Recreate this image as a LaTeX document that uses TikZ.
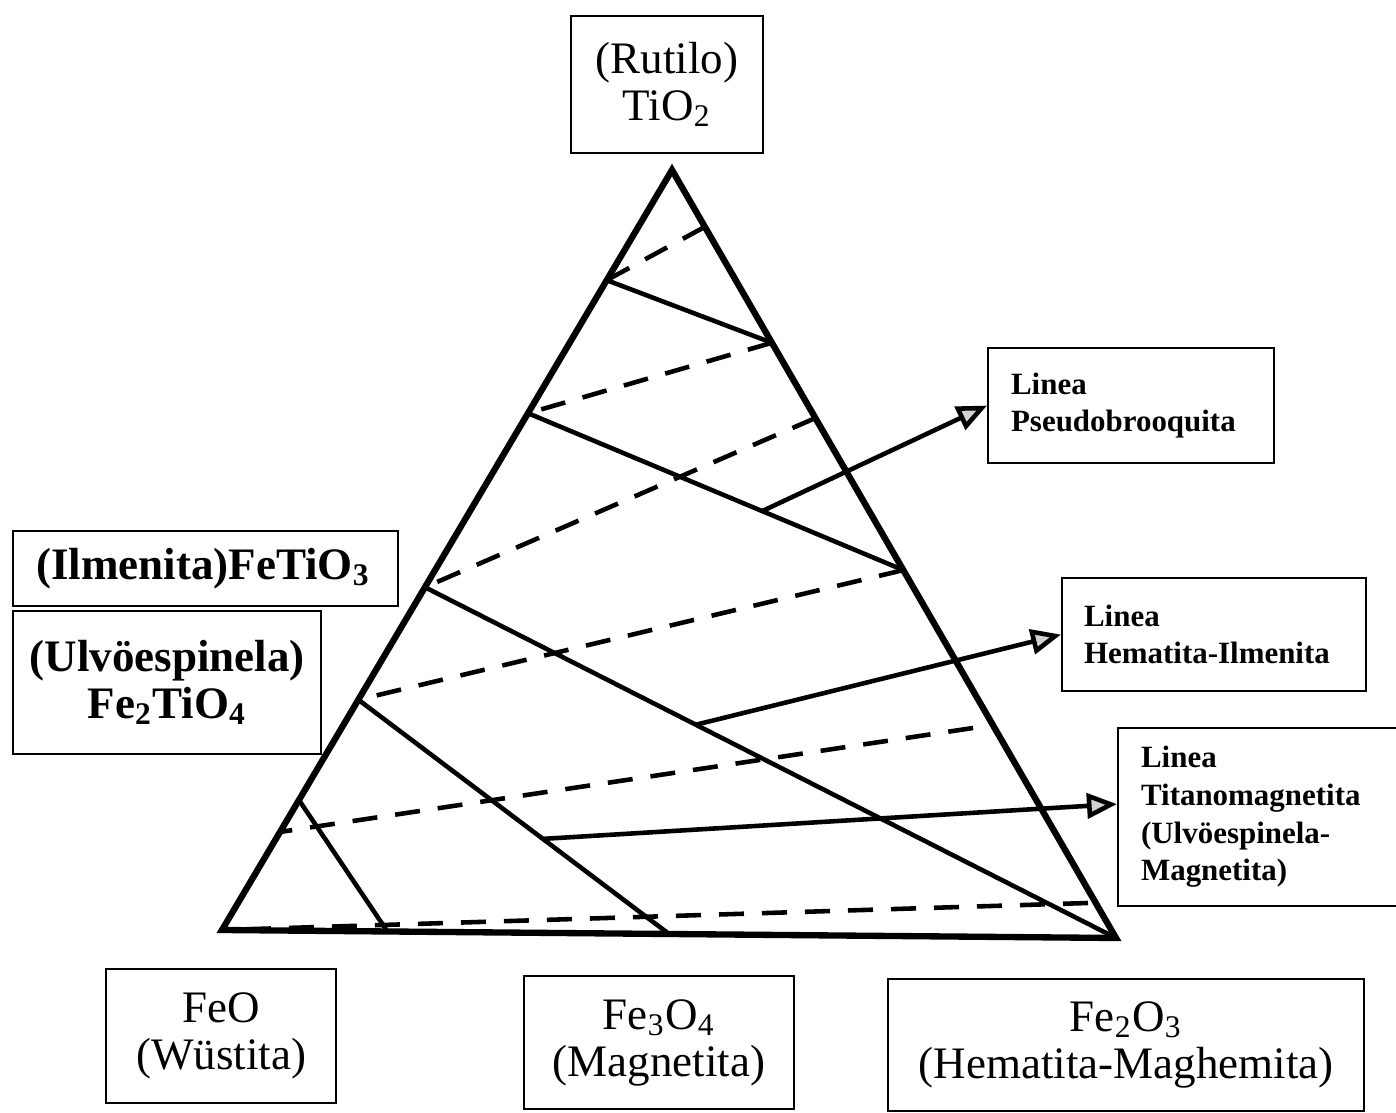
\documentclass[tikz,border=0pt]{standalone}
\usepackage{fontspec}
\setmainfont{Liberation Serif}
\usepackage{tikz}
\usetikzlibrary{arrows.meta,positioning,calc}

\begin{document}
\begin{tikzpicture}[x=0.01cm, y=-0.01cm,
  big/.style={font=\fontsize{12.8}{13.4}\selectfont},
  bigbold/.style={font=\bfseries\fontsize{12.8}{13.4}\selectfont},
  small/.style={font=\bfseries\fontsize{8.8}{10.7}\selectfont},
  box/.style={draw, line width=0.6pt, inner sep=0pt, anchor=north west},
  edge/.style={line width=1.8pt},
  tie/.style={line width=1.3pt},
  dashline/.style={line width=1.3pt, dash pattern=on 2.5mm off 1.8mm},
  ptr/.style={line width=1.3pt, -{Triangle[length=3mm,width=2.5mm,fill=gray!35]}}]
\useasboundingbox (0,0) rectangle (1396,1113);
\coordinate (T) at (672,170);
\coordinate (L) at (222,930);
\coordinate (R) at (1116,938);
\coordinate (a1) at ($(T)!0.145!(L)$);
\coordinate (a2) at ($(T)!0.320!(L)$);
\coordinate (a3) at ($(T)!0.549!(L)$);
\coordinate (a4) at ($(T)!0.697!(L)$);
\coordinate (a5) at ($(T)!0.829!(L)$);
\coordinate (a6) at ($(T)!0.871!(L)$);
\coordinate (b1) at ($(T)!0.074!(R)$);
\coordinate (b2) at ($(T)!0.225!(R)$);
\coordinate (b3) at ($(T)!0.323!(R)$);
\coordinate (b4) at ($(T)!0.521!(R)$);
\coordinate (c1) at ($(L)!0.185!(R)$);
\coordinate (c2) at ($(L)!0.500!(R)$);
\coordinate (e5) at (973,728);
\coordinate (e6) at (1088,903);
\draw[edge] (T) -- (L) -- (R) -- cycle;
\draw[dashline] (b1) -- (a1);
\draw[dashline] (b2) -- (a2);
\draw[dashline] (b3) -- (a3);
\draw[dashline] (b4) -- (a4);
\draw[dashline] (e5) -- (a6);
\draw[dashline] (e6) -- (L);
\draw[tie] (a1) -- (b2);
\draw[tie] (a2) -- (b4);
\draw[tie] (a3) -- (R);
\draw[tie] (a4) -- (c2);
\draw[tie] (a5) -- (c1);
\node[box, big, minimum width=1.92cm, minimum height=1.37cm, align=center] (rut) at (570,15) {(Rutilo)\\TiO\textsubscript{2}};
\node[box, bigbold, minimum width=3.85cm, minimum height=0.75cm, inner xsep=2.3mm, text width=3.39cm, align=left] (ilm) at (12,530) {(Ilmenita)FeTiO\textsubscript{3}};
\node[box, bigbold, minimum width=3.08cm, minimum height=1.43cm, align=center] (ulv) at (12,610) {(Ulvöespinela)\\Fe\textsubscript{2}TiO\textsubscript{4}};
\node[box, small, minimum height=1.15cm, inner xsep=2.3mm, text width=2.40cm, align=left] (pseudo) at (987,347) {Linea\\Pseudobrooquita};
\node[box, small, minimum height=1.13cm, inner xsep=2.2mm, text width=2.60cm, align=left] (hemilm) at (1061,577) {Linea\\Hematita-Ilmenita};
\node[box, small, minimum height=1.78cm, inner xsep=2.3mm, text width=2.40cm, align=left] (titan) at (1117,727) {Linea\\Titanomagnetita\\(Ulvöespinela-\\Magnetita)};
\node[box, big, minimum width=2.30cm, minimum height=1.34cm, align=center] (feo) at (105,968) {FeO\\(Wüstita)};
\node[box, big, minimum width=2.70cm, minimum height=1.33cm, align=center] (magn) at (523,975) {Fe\textsubscript{3}O\textsubscript{4}\\(Magnetita)};
\node[box, big, minimum width=4.76cm, minimum height=1.32cm, align=center] (hemag) at (887,978) {Fe\textsubscript{2}O\textsubscript{3}\\(Hematita-Maghemita)};
\coordinate (p1) at ($(a2)!0.624!(b4)$);
\coordinate (p2) at ($(a3)!0.392!(R)$);
\coordinate (p3) at ($(a4)!0.594!(c2)$);
\draw[ptr] (p1) -- (pseudo.west);
\draw[ptr] (p2) -- (hemilm.west);
\draw[ptr] (p3) -- ([yshift=1.3mm]titan.west);
\end{tikzpicture}
\end{document}
